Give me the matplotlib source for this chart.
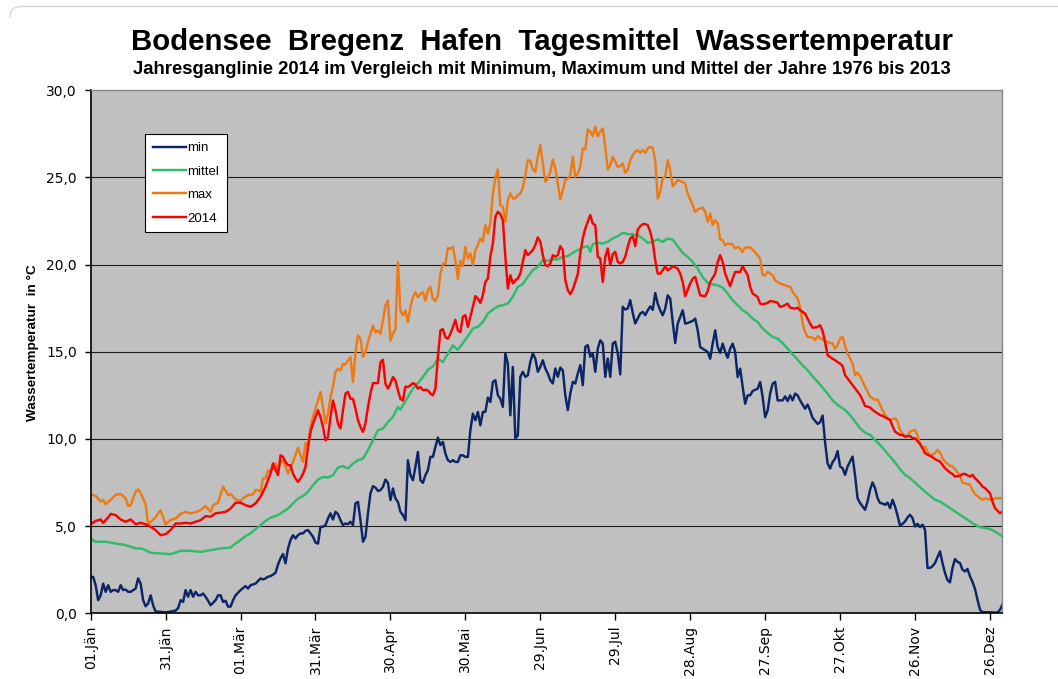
import matplotlib.pyplot as plt
from matplotlib.lines import Line2D

plt.rcParams['font.family'] = ['DejaVu Sans']

title = "Bodensee  Bregenz  Hafen  Tagesmittel  Wassertemperatur"
subtitle = "Jahresganglinie 2014 im Vergleich mit Minimum, Maximum und Mittel der Jahre 1976 bis 2013"
ylabel = "Wassertemperatur  in °C"

# category axis: 366 days (leap-year template), tick every 30 days
tick_days = [1, 31, 61, 91, 121, 151, 181, 211, 241, 271, 301, 331, 361]
tick_labels = ["01.Jän", "31.Jän", "01.Mär", "31.Mär", "30.Apr", "30.Mai", "29.Jun",
               "29.Jul", "28.Aug", "27.Sep", "27.Okt", "26.Nov", "26.Dez"]

# (day, °C)
min_pts = [
    (1, 2.05), (2, 2.09), (3, 1.61), (4, 0.75), (5, 1.03), (6, 1.7), (7, 1.23), (8, 1.61),
    (9, 1.23), (10, 1.33), (11, 1.33), (12, 1.23), (13, 1.61), (14, 1.33), (15, 1.36),
    (16, 1.23), (17, 1.23), (19, 1.42), (20, 2.0), (21, 1.7), (22, 0.75), (23, 0.4),
    (24, 0.56), (25, 1.03), (26, 0.46), (27, 0.1), (29, 0.08), (31, 0.05), (33, 0.1),
    (35, 0.15), (36, 0.3), (37, 0.75), (38, 0.65), (39, 1.33), (40, 0.95), (41, 1.33),
    (42, 0.95), (43, 1.23), (44, 1.03), (45, 1.03), (46, 1.13), (47, 0.95), (48, 0.72),
    (49, 0.46), (51, 0.75), (52, 1.03), (53, 1.03), (54, 0.65), (55, 0.72), (56, 0.38),
    (57, 0.38), (58, 0.75), (59, 1.03), (61, 1.33), (63, 1.56), (64, 1.42), (65, 1.61),
    (67, 1.7), (69, 2.0), (70, 1.94), (71, 2.0), (72, 2.1), (73, 2.13), (75, 2.32),
    (76, 2.8), (77, 3.15), (78, 3.4), (79, 2.86), (80, 3.72), (81, 4.2), (82, 4.48),
    (83, 4.29), (84, 4.48), (85, 4.58), (86, 4.58), (87, 4.73), (88, 4.77), (89, 4.58),
    (90, 4.39), (91, 4.05), (92, 4.0), (93, 4.96), (94, 4.96), (95, 5.06), (96, 5.44),
    (97, 5.73), (98, 5.38), (99, 5.82), (100, 5.69), (101, 5.34), (102, 5.06), (103, 5.15),
    (104, 5.11), (105, 5.25), (106, 5.06), (107, 6.3), (108, 6.39), (109, 5.34), (110, 4.1),
    (111, 4.39), (112, 5.73), (113, 6.87), (114, 7.29), (115, 7.21), (116, 7.02), (117, 7.06),
    (118, 7.25), (119, 7.67), (120, 7.48), (121, 6.49), (122, 7.16), (123, 6.58), (124, 6.39),
    (125, 5.82), (126, 5.63), (127, 5.34), (128, 8.78), (129, 7.92), (130, 7.63), (131, 8.4),
    (132, 9.26), (133, 7.63), (134, 7.48), (135, 7.92), (136, 8.21), (137, 8.97), (138, 8.97),
    (139, 9.54), (140, 10.08), (141, 9.64), (142, 9.83), (143, 9.16), (144, 8.78), (145, 8.68),
    (146, 8.78), (147, 8.68), (148, 8.68), (149, 9.06), (150, 9.06), (151, 8.97), (152, 8.97),
    (153, 10.5), (154, 11.45), (155, 11.07), (156, 11.55), (157, 10.78), (158, 11.55),
    (159, 11.55), (160, 12.37), (161, 12.12), (162, 13.27), (163, 13.37), (164, 12.51),
    (165, 12.31), (166, 11.84), (167, 14.9), (168, 14.32), (169, 11.36), (170, 14.13),
    (171, 10.02), (172, 10.21), (173, 13.56), (174, 13.85), (175, 13.56), (176, 13.65),
    (177, 14.42), (178, 14.9), (179, 14.61), (180, 13.85), (181, 14.13), (182, 14.51),
    (183, 14.04), (184, 13.75), (185, 13.37), (186, 13.18), (187, 14.04), (188, 13.56),
    (189, 14.09), (190, 13.94), (191, 12.51), (192, 11.65), (193, 12.6), (194, 13.27),
    (195, 13.18), (196, 13.75), (197, 14.23), (198, 13.08), (199, 15.28), (200, 15.38),
    (201, 14.71), (202, 14.9), (203, 13.85), (204, 15.18), (205, 15.66), (206, 15.47),
    (207, 13.56), (208, 14.61), (209, 13.56), (210, 15.47), (211, 15.57), (212, 14.9),
    (213, 13.7), (214, 17.58), (215, 17.42), (216, 17.48), (217, 17.96), (218, 17.23),
    (219, 16.62), (220, 16.91), (221, 17.19), (222, 17.29), (223, 17.1), (224, 17.38),
    (225, 17.6), (226, 17.4), (227, 18.37), (228, 17.76), (229, 17.38), (230, 17.09),
    (231, 17.47), (232, 18.24), (233, 18.05), (234, 16.71), (235, 15.5), (236, 16.61),
    (238, 17.38), (239, 16.61), (240, 16.65), (242, 16.77), (243, 16.9), (244, 16.23),
    (245, 15.27), (247, 15.08), (248, 14.99), (249, 14.6), (250, 15.47), (251, 16.23),
    (252, 15.27), (253, 14.93), (254, 15.47), (255, 14.99), (256, 14.66), (257, 15.18),
    (258, 15.47), (259, 14.99), (260, 13.55), (261, 14.03), (262, 13.0), (263, 12.02),
    (264, 12.5), (265, 12.5), (266, 12.75), (268, 12.88), (269, 13.27), (270, 12.4),
    (271, 11.25), (272, 11.63), (273, 12.6), (274, 13.17), (275, 13.27), (276, 12.21),
    (278, 12.21), (279, 12.44), (280, 12.17), (281, 12.5), (282, 12.21), (283, 12.6),
    (284, 12.5), (285, 12.21), (287, 11.73), (288, 11.97), (289, 11.63), (290, 11.21),
    (292, 10.86), (293, 10.96), (294, 11.34), (295, 9.8), (296, 8.6), (297, 8.3),
    (298, 8.67), (299, 8.87), (300, 9.3), (301, 8.42), (302, 8.32), (303, 7.94), (304, 8.42),
    (305, 8.7), (306, 8.99), (307, 7.9), (308, 6.6), (309, 6.32), (310, 6.13), (311, 5.94),
    (312, 6.41), (313, 7.08), (314, 7.5), (315, 7.18), (316, 6.6), (317, 6.32), (318, 6.3),
    (319, 6.22), (320, 6.35), (321, 6.03), (322, 6.51), (323, 6.13), (324, 5.6), (325, 5.02),
    (326, 5.13), (327, 5.27), (328, 5.5), (329, 5.65), (330, 5.46), (331, 4.98), (332, 5.13),
    (333, 4.94), (334, 5.08), (335, 4.79), (336, 2.6), (337, 2.6), (338, 2.7), (339, 2.88),
    (340, 3.22), (341, 3.55), (342, 2.88), (343, 2.31), (344, 1.9), (345, 1.77), (346, 2.6),
    (347, 3.11), (348, 2.95), (349, 2.88), (350, 2.5), (351, 2.4), (352, 2.54), (353, 2.12),
    (354, 1.8), (355, 1.4), (356, 0.78), (357, 0.21), (358, 0.06), (361, 0.06), (363, 0.04),
    (364, 0.04), (365, 0.2), (366, 0.5),
]

mittel_pts = [
    (1, 4.29), (3, 4.1), (7, 4.1), (11, 4.0), (15, 3.91), (19, 3.72), (21, 3.72), (23, 3.62),
    (25, 3.47), (29, 3.43), (33, 3.39), (37, 3.58), (41, 3.58), (45, 3.52), (49, 3.62),
    (53, 3.72), (57, 3.77), (59, 4.0), (61, 4.2), (63, 4.43), (65, 4.58), (67, 4.83),
    (69, 5.06), (71, 5.3), (73, 5.48), (76, 5.63), (78, 5.82), (80, 6.01), (82, 6.3),
    (84, 6.58), (86, 6.72), (88, 6.97), (90, 7.35), (92, 7.67), (94, 7.82), (96, 7.79),
    (98, 7.92), (100, 8.36), (102, 8.44), (104, 8.3), (106, 8.59), (108, 8.78), (110, 8.87),
    (112, 9.35), (114, 9.92), (116, 10.5), (118, 10.59), (120, 10.97), (122, 11.26),
    (124, 11.83), (125, 11.68), (126, 11.93), (128, 12.4), (130, 12.88), (132, 13.2),
    (134, 13.55), (136, 13.97), (138, 14.16), (140, 14.6), (142, 14.41), (144, 14.89),
    (146, 15.36), (148, 15.11), (150, 15.5), (152, 15.89), (154, 16.33), (156, 16.43),
    (158, 16.71), (160, 17.19), (162, 17.42), (164, 17.61), (166, 17.67), (168, 17.77),
    (170, 18.15), (172, 18.72), (174, 18.88), (176, 19.3), (178, 19.68), (180, 19.87),
    (182, 20.25), (184, 20.22), (186, 20.3), (188, 20.3), (190, 20.45), (192, 20.48),
    (194, 20.68), (196, 20.83), (198, 20.98), (200, 21.06), (201, 20.73), (202, 21.17),
    (204, 21.25), (206, 21.21), (208, 21.31), (210, 21.5), (212, 21.63), (214, 21.82),
    (216, 21.75), (218, 21.75), (220, 21.69), (222, 21.5), (224, 21.25), (226, 21.3),
    (228, 21.45), (230, 21.3), (232, 21.49), (234, 21.43), (236, 21.05), (238, 20.67),
    (240, 20.44), (242, 20.15), (244, 19.77), (246, 19.29), (248, 18.95), (250, 18.87),
    (252, 18.81), (254, 18.68), (256, 18.34), (258, 17.95), (260, 17.67), (262, 17.38),
    (264, 17.19), (266, 16.9), (268, 16.71), (270, 16.33), (272, 16.08), (274, 15.85),
    (276, 15.75), (278, 15.5), (280, 15.18), (282, 14.85), (284, 14.55), (286, 14.22),
    (288, 13.94), (290, 13.59), (292, 13.27), (294, 12.94), (296, 12.6), (298, 12.21),
    (300, 11.95), (303, 11.66), (305, 11.37), (307, 10.99), (309, 10.61), (311, 10.36),
    (313, 10.23), (315, 9.94), (317, 9.66), (319, 9.33), (321, 8.99), (323, 8.65),
    (325, 8.26), (327, 7.94), (329, 7.75), (331, 7.5), (333, 7.23), (335, 6.98), (337, 6.74),
    (339, 6.51), (341, 6.41), (343, 6.22), (345, 6.03), (347, 5.84), (349, 5.65), (351, 5.46),
    (353, 5.27), (355, 5.08), (357, 4.94), (359, 4.89), (361, 4.83), (363, 4.69), (365, 4.5),
    (366, 4.41),
]

max_pts = [
    (1, 6.82), (3, 6.74), (5, 6.4), (6, 6.5), (7, 6.26), (9, 6.5), (11, 6.8), (13, 6.84),
    (15, 6.6), (16, 6.15), (17, 6.2), (19, 6.97), (20, 7.1), (21, 6.9), (23, 6.26), (24, 5.06),
    (25, 5.25), (27, 5.5), (28, 5.75), (29, 5.9), (31, 5.1), (33, 5.35), (35, 5.44), (37, 5.7),
    (39, 5.82), (41, 5.73), (43, 5.79), (45, 5.92), (47, 6.15), (49, 5.82), (50, 6.2),
    (52, 6.34), (54, 7.26), (55, 7.03), (56, 6.78), (57, 6.84), (59, 6.53), (61, 6.44),
    (62, 6.6), (64, 6.78), (66, 6.82), (67, 7.07), (68, 7.07), (69, 6.97), (70, 7.74),
    (71, 7.74), (72, 8.2), (73, 8.1), (75, 8.6), (76, 8.2), (77, 8.68), (78, 8.78), (80, 8.02),
    (82, 8.68), (84, 9.5), (85, 9.06), (86, 8.68), (87, 9.77), (88, 9.54), (89, 10.69),
    (90, 11.26), (92, 12.2), (93, 12.7), (94, 11.83), (95, 10.88), (96, 11.45), (97, 12.4),
    (98, 12.98), (99, 13.84), (100, 14.03), (101, 13.93), (102, 14.3), (103, 14.27),
    (104, 14.5), (105, 14.7), (106, 13.26), (107, 14.9), (108, 15.94), (109, 15.74),
    (110, 14.7), (111, 14.98), (112, 15.55), (113, 16.03), (114, 16.5), (115, 16.13),
    (116, 16.22), (117, 16.03), (118, 16.8), (119, 17.65), (120, 17.94), (121, 15.65),
    (122, 16.03), (123, 16.3), (124, 20.13), (125, 17.37), (126, 17.08), (127, 17.37),
    (128, 16.7), (129, 17.56), (130, 18.13), (131, 18.42), (132, 18.13), (133, 18.32),
    (134, 18.42), (135, 17.94), (136, 18.51), (137, 18.74), (138, 18.03), (139, 17.9),
    (140, 18.23), (141, 19.46), (142, 20.04), (143, 20.04), (144, 20.95), (145, 20.9),
    (146, 21.03), (147, 20.23), (148, 19.18), (149, 20.23), (150, 19.9), (151, 21.02),
    (152, 20.35), (153, 20.64), (154, 19.97), (155, 20.83), (156, 21.12), (157, 21.5),
    (158, 21.31), (159, 22.26), (160, 21.78), (161, 22.36), (162, 24.08), (163, 24.94),
    (164, 25.46), (165, 23.41), (166, 23.3), (167, 22.45), (168, 23.7), (169, 24.08),
    (170, 23.8), (171, 23.8), (172, 23.98), (173, 24.08), (174, 24.42), (175, 25.13),
    (176, 25.99), (177, 25.95), (178, 25.46), (179, 25.32), (180, 26.19), (181, 26.86),
    (182, 25.8), (183, 24.75), (184, 24.94), (185, 25.32), (186, 26.03), (187, 25.52),
    (188, 24.65), (189, 23.74), (190, 24.27), (191, 24.85), (192, 24.94), (193, 25.13),
    (194, 26.19), (195, 25.04), (196, 25.23), (197, 25.61), (198, 26.66), (199, 26.61),
    (200, 27.75), (201, 27.62), (202, 27.37), (203, 27.91), (204, 27.37), (205, 27.62),
    (206, 27.81), (207, 26.76), (208, 25.46), (209, 25.71), (210, 26.19), (211, 25.9),
    (212, 25.61), (213, 25.65), (214, 25.8), (215, 25.27), (216, 25.44), (217, 25.99),
    (218, 26.28), (219, 26.47), (220, 26.57), (221, 26.41), (222, 26.57), (223, 26.41),
    (224, 26.66), (225, 26.76), (226, 26.7), (227, 25.99), (228, 23.79), (229, 24.17),
    (230, 24.94), (231, 25.03), (232, 25.99), (233, 25.41), (234, 24.5), (235, 24.65),
    (236, 24.84), (238, 24.74), (239, 24.65), (240, 24.07), (242, 23.41), (243, 23.02),
    (244, 23.16), (246, 23.27), (247, 23.02), (248, 22.45), (249, 22.93), (250, 22.26),
    (251, 22.54), (252, 22.39), (253, 21.43), (254, 21.4), (255, 21.11), (256, 21.2),
    (258, 21.17), (259, 20.92), (260, 21.01), (261, 20.92), (262, 20.73), (263, 20.98),
    (265, 20.98), (266, 20.86), (268, 20.54), (269, 20.34), (270, 19.39), (271, 19.39),
    (272, 19.58), (274, 19.39), (275, 19.1), (277, 18.91), (279, 18.81), (281, 18.72),
    (282, 18.43), (284, 18.05), (285, 17.57), (286, 16.61), (287, 16.14), (288, 15.85),
    (290, 15.81), (291, 15.66), (292, 15.89), (294, 15.7), (295, 15.62), (296, 15.56),
    (298, 15.47), (299, 15.18), (300, 15.37), (301, 15.75), (302, 15.86), (303, 15.32),
    (304, 14.9), (306, 14.33), (307, 13.66), (308, 13.8), (309, 13.61), (311, 13.0),
    (312, 12.71), (313, 12.42), (315, 12.23), (316, 12.27), (317, 11.95), (319, 11.37),
    (320, 11.18), (321, 11.09), (323, 11.18), (324, 10.99), (325, 10.52), (327, 10.13),
    (328, 10.17), (329, 10.42), (331, 10.52), (332, 10.23), (333, 9.71), (334, 9.47),
    (335, 9.56), (336, 9.27), (337, 9.03), (339, 9.18), (340, 9.37), (341, 9.22), (342, 8.89),
    (343, 8.7), (345, 8.45), (346, 8.42), (347, 8.26), (349, 7.88), (350, 7.5), (351, 7.46),
    (353, 7.37), (354, 7.08), (355, 6.85), (357, 6.6), (358, 6.51), (359, 6.6), (360, 6.55),
    (362, 6.51), (363, 6.6), (364, 6.6), (366, 6.6),
]

y2014_pts = [
    (1, 5.1), (3, 5.3), (5, 5.38), (6, 5.19), (8, 5.5), (9, 5.7), (11, 5.63), (13, 5.38),
    (15, 5.25), (17, 5.38), (19, 5.11), (21, 5.19), (23, 5.1), (25, 4.96), (27, 4.77),
    (29, 4.48), (31, 4.54), (33, 4.77), (35, 5.15), (37, 5.15), (39, 5.19), (41, 5.15),
    (43, 5.25), (45, 5.34), (47, 5.57), (49, 5.54), (51, 5.73), (53, 5.77), (55, 5.82),
    (57, 6.0), (59, 6.34), (61, 6.34), (63, 6.2), (65, 6.11), (67, 6.3), (69, 6.69),
    (71, 7.26), (72, 7.64), (73, 8.03), (74, 8.6), (75, 8.22), (76, 7.92), (77, 9.06),
    (78, 8.97), (79, 8.68), (80, 8.49), (81, 8.49), (82, 8.0), (83, 7.73), (84, 7.54),
    (85, 7.73), (86, 8.0), (87, 8.4), (88, 9.54), (89, 10.4), (90, 10.88), (91, 11.26),
    (92, 11.64), (93, 11.26), (94, 10.69), (95, 9.92), (96, 10.1), (97, 11.26), (98, 12.2),
    (99, 11.64), (100, 10.88), (101, 10.6), (102, 11.64), (103, 12.6), (104, 12.7),
    (105, 12.3), (106, 12.3), (107, 11.74), (108, 11.07), (109, 10.69), (110, 10.4),
    (111, 10.88), (112, 11.83), (113, 12.6), (114, 13.2), (115, 13.2), (116, 13.2),
    (117, 14.4), (118, 14.54), (119, 13.17), (120, 12.88), (121, 13.17), (122, 13.55),
    (123, 13.36), (124, 12.79), (125, 12.3), (126, 12.2), (127, 13.0), (128, 12.98),
    (129, 13.07), (130, 13.2), (131, 13.13), (132, 12.88), (133, 12.98), (134, 12.79),
    (135, 12.82), (136, 12.79), (137, 12.6), (138, 12.5), (139, 12.88), (140, 14.7),
    (141, 16.22), (142, 16.3), (143, 15.84), (144, 15.74), (145, 16.03), (146, 16.41),
    (147, 16.83), (148, 16.22), (149, 16.13), (150, 17.0), (151, 17.1), (152, 16.43),
    (153, 17.0), (154, 17.58), (155, 18.19), (156, 18.05), (157, 17.8), (158, 18.25),
    (159, 19.01), (160, 19.2), (161, 20.45), (162, 21.21), (163, 22.74), (164, 23.03),
    (165, 22.89), (166, 22.55), (167, 20.45), (168, 18.63), (169, 19.39), (170, 18.92),
    (171, 19.1), (172, 19.2), (173, 19.49), (174, 20.16), (175, 20.83), (176, 20.54),
    (177, 20.68), (178, 20.83), (179, 21.12), (180, 21.56), (181, 21.31), (182, 20.54),
    (183, 19.97), (184, 19.91), (185, 20.06), (186, 20.54), (187, 20.45), (188, 20.54),
    (189, 21.06), (190, 20.83), (191, 19.1), (192, 18.53), (193, 18.3), (194, 18.57),
    (195, 19.01), (196, 19.45), (197, 20.64), (198, 21.5), (199, 22.07), (200, 22.45),
    (201, 22.84), (202, 22.36), (203, 22.26), (204, 20.45), (205, 20.35), (206, 19.0),
    (207, 20.45), (208, 20.92), (209, 19.97), (210, 20.6), (211, 20.73), (212, 20.16),
    (213, 20.06), (214, 20.16), (215, 20.45), (216, 21.02), (217, 21.5), (218, 21.63),
    (219, 21.06), (220, 22.01), (221, 22.2), (222, 22.32), (223, 22.32), (224, 22.26),
    (225, 21.88), (226, 21.3), (227, 20.25), (228, 19.48), (229, 19.48), (230, 19.67),
    (231, 19.9), (232, 19.67), (233, 19.77), (234, 19.9), (236, 19.77), (237, 19.48),
    (238, 19.0), (239, 18.18), (241, 18.91), (242, 19.2), (243, 19.29), (244, 18.76),
    (245, 18.24), (247, 18.18), (248, 18.49), (249, 19.0), (251, 19.48), (252, 20.15),
    (253, 20.54), (254, 20.15), (255, 19.48), (257, 18.76), (258, 19.2), (259, 19.58),
    (261, 19.58), (262, 19.9), (264, 19.39), (265, 18.72), (266, 18.34), (268, 18.14),
    (269, 17.76), (270, 17.72), (272, 17.8), (273, 17.91), (275, 17.86), (276, 17.8),
    (277, 17.57), (278, 17.61), (280, 17.76), (281, 17.53), (283, 17.47), (284, 17.53),
    (285, 17.38), (287, 17.19), (288, 16.9), (289, 16.61), (290, 16.38), (292, 16.42),
    (293, 16.52), (294, 16.19), (295, 15.56), (296, 14.8), (298, 14.6), (299, 14.51),
    (301, 14.32), (302, 14.18), (303, 13.66), (305, 13.28), (306, 13.09), (307, 12.9),
    (309, 12.52), (310, 12.23), (311, 11.89), (313, 11.81), (314, 11.66), (315, 11.56),
    (317, 11.37), (318, 11.32), (319, 11.24), (321, 11.09), (322, 10.74), (323, 10.42),
    (325, 10.23), (326, 10.23), (327, 10.13), (329, 10.17), (330, 10.04), (331, 10.04),
    (333, 9.71), (334, 9.47), (335, 9.18), (337, 9.03), (338, 8.95), (339, 8.84), (341, 8.7),
    (342, 8.51), (343, 8.32), (345, 8.07), (346, 7.99), (347, 7.84), (349, 7.88), (350, 7.99),
    (351, 7.99), (353, 7.84), (354, 7.94), (355, 7.75), (357, 7.46), (358, 7.27), (359, 7.18),
    (361, 6.89), (362, 6.41), (363, 6.03), (365, 5.74), (366, 5.84),
]

series = [
    (min_pts, '#0b2566', 'min'),
    (mittel_pts, '#2fbb6a', 'mittel'),
    (max_pts, '#ee7a14', 'max'),
    (y2014_pts, '#ff0000', '2014'),
]

W, H = 1058, 679
fig = plt.figure(figsize=(W / 100, H / 100), dpi=100)

# faint top edge of the original chart object, rounded at the left
fig.add_artist(Line2D([10 / W, 11 / W, 14 / W, 20 / W, 1.0],
                      [1 - 17 / H, 1 - 11 / H, 1 - 8 / H, 1 - 6.5 / H, 1 - 6.5 / H],
                      transform=fig.transFigure, color='#d8d8d8', lw=1))

ax = fig.add_axes([0.0857, 0.0968, 0.8618, 0.7703])
ax.set_facecolor('#c0c0c0')

for pts, color, label in series:
    days, vals = zip(*pts)
    ax.plot(days, vals, color=color, lw=1.75, label=label, solid_joinstyle='round')

ax.set_xlim(1, 366)
ax.set_ylim(0, 30)

for v in range(5, 30, 5):
    ax.axhline(v, color='#202020', lw=0.8, zorder=0.5)

ax.set_yticks(range(0, 31, 5))
ax.set_yticklabels([f"{v},0" for v in range(0, 31, 5)], fontsize=10)
ax.set_xticks(tick_days)
ax.set_xticklabels(tick_labels, rotation=90, fontsize=10)
ax.tick_params(axis='x', direction='out', length=5, width=1, pad=4)
ax.tick_params(axis='y', direction='out', length=4, width=1, pad=6)

for side in ['left', 'bottom']:
    ax.spines[side].set_color('black')
    ax.spines[side].set_linewidth(1.2)
for side in ['top', 'right']:
    ax.spines[side].set_color('#8a8a8a')
    ax.spines[side].set_linewidth(1)

leg = ax.legend(loc='upper left', bbox_to_anchor=(144.7 / W, 1 - 134 / H),
                bbox_transform=fig.transFigure, fancybox=False, edgecolor='black',
                framealpha=1, borderaxespad=0, handlelength=2.5, handletextpad=0.15,
                labelspacing=0.85, borderpad=0.6,
                prop={'family': 'Liberation Sans', 'size': 9.5})
leg.get_frame().set_linewidth(0.8)

fig.text(0.5123, 1 - 50 / H, title, ha='center', va='baseline',
         fontsize=21.15, fontweight='bold', family='Liberation Sans')
fig.text(0.5123, 1 - 74 / H, subtitle, ha='center', va='baseline',
         fontsize=13.3, fontweight='bold', family='Liberation Sans')
fig.text(33 / W, 1 - 343 / H, ylabel, ha='center', va='center', rotation=90,
         fontsize=9.7, fontweight='bold', family='Liberation Sans')

fig.savefig('out.png', dpi=100)
